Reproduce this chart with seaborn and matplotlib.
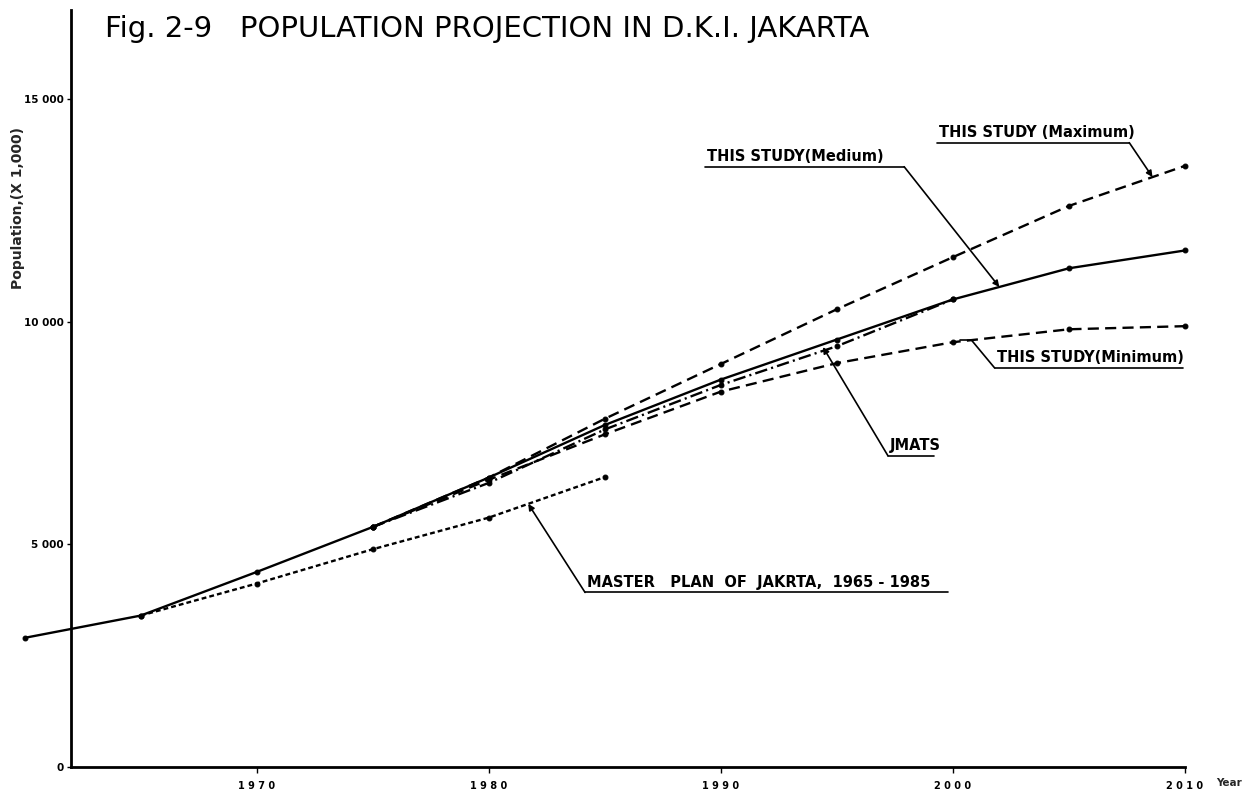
import matplotlib
matplotlib.use("Agg")
import matplotlib.pyplot as plt
import numpy as np
import pandas as pd
import seaborn as sns

# ---- data (population in thousands) ----
years_medium = [1960, 1965, 1970, 1975, 1980, 1985, 1990, 1995, 2000, 2005, 2010]
medium = [2900, 3400, 4380, 5390, 6500, 7680, 8700, 9600, 10500, 11200, 11600]

years_study = [1975, 1980, 1985, 1990, 1995, 2000, 2005, 2010]
maximum = [5390, 6500, 7820, 9050, 10280, 11450, 12600, 13500]
minimum = [5390, 6450, 7470, 8430, 9070, 9540, 9830, 9900]

years_jmats = [1975, 1980, 1985, 1990, 1995, 2000]
jmats = [5390, 6380, 7580, 8580, 9450, 10500]

years_master = [1965, 1970, 1975, 1980, 1985]
master_plan = [3400, 4120, 4890, 5600, 6510]

x_ticks = [1970, 1980, 1990, 2000, 2010]
x_tick_labels = ["1 9 7 0", "1 9 8 0", "1 9 9 0", "2 0 0 0", "2 0 1 0"]
y_ticks = [0, 5000, 10000, 15000]
y_tick_labels = ["0", "5 000", "10 000", "15 000"]

series_names = ["Medium", "Maximum", "Minimum", "JMATS", "Master plan"]

frames = [
    pd.DataFrame({"year": years_medium, "population": medium, "series": "Medium"}),
    pd.DataFrame({"year": years_study, "population": maximum, "series": "Maximum"}),
    pd.DataFrame({"year": years_study, "population": minimum, "series": "Minimum"}),
    pd.DataFrame({"year": years_jmats, "population": jmats, "series": "JMATS"}),
    pd.DataFrame({"year": years_master, "population": master_plan, "series": "Master plan"}),
]
df = pd.concat(frames, ignore_index=True)

sns.set_theme(style="white")
plt.rcParams["font.family"] = ["DejaVu Sans"]
plt.rcParams["lines.scale_dashes"] = False

W, H = 1248, 798
fig = plt.figure(figsize=(W / 100, H / 100), dpi=100)
ax = fig.add_axes([71 / W, 1 - 767 / H, (1185 - 71) / W, (767 - 10) / H])

dash_styles = {
    "Medium": "",
    "Maximum": (8, 4.5),
    "Minimum": (8, 4.5),
    "JMATS": (9, 3, 1.5, 3),
    "Master plan": (3.5, 2.2),
}
sns.lineplot(
    data=df, x="year", y="population", hue="series", style="series",
    hue_order=series_names, style_order=series_names,
    palette={s: "black" for s in series_names},
    dashes=dash_styles, markers={s: "o" for s in series_names},
    markersize=3.5, markeredgecolor="black", linewidth=1.7,
    estimator=None, legend=False, ax=ax,
)
for ln in ax.lines:
    ln.set_clip_on(False)

ax.set_xlim(1962, 2010)
ax.set_ylim(0, 17000)
ax.set_xlabel("")
ax.set_ylabel("")
for side in ("top", "right"):
    ax.spines[side].set_visible(False)
for side in ("left", "bottom"):
    ax.spines[side].set_linewidth(2)
    ax.spines[side].set_color("black")

ax.set_xticks(x_ticks)
ax.set_xticklabels(x_tick_labels)
ax.set_yticks(y_ticks)
ax.set_yticklabels(y_tick_labels)
ax.tick_params(axis="x", bottom=True, direction="out", length=4, width=1,
               labelsize=7, pad=6, colors="black")
ax.tick_params(axis="y", left=True, direction="out", length=3, width=1,
               labelsize=7.5, pad=2, colors="black")
for lbl in ax.get_xticklabels() + ax.get_yticklabels():
    lbl.set_fontweight("bold")

ax.text(1.028, -0.0145, "Year", transform=ax.transAxes, ha="left", va="top",
        fontsize=7.5, fontweight="bold")

fig.text(105 / W, 1 - 29 / H, "Fig. 2-9   POPULATION PROJECTION IN D.K.I. JAKARTA",
         fontsize=21, ha="left", va="center", color="black")
fig.text(18 / W, 1 - 208 / H, "Population,(X 1,000)", rotation=90,
         fontsize=10, fontweight="bold", ha="center", va="center")

# ---- labelled leaders ----
label_kw = dict(fontsize=10.5, fontweight="bold", ha="left", va="bottom", color="black")
line_kw = dict(color="black", lw=1.2, clip_on=False)
arrow_kw = dict(arrowstyle="-|>", color="black", lw=1.2, mutation_scale=9,
                shrinkA=0, shrinkB=0)


def on_line(years, values, x):
    return float(np.interp(x, years, values))


def leader(text, x0, x1, y, start, tip, arrow=True):
    ax.text(x0 + 0.1, y + 60, text, **label_kw)
    ax.plot([x0, x1], [y, y], **line_kw)
    if arrow:
        ax.annotate("", xy=tip, xytext=start, arrowprops=arrow_kw, annotation_clip=False)
    else:
        ax.plot([start[0], tip[0]], [start[1], tip[1]], **line_kw)


tip = (2008.6, on_line(years_study, maximum, 2008.6))
leader("THIS STUDY (Maximum)", 1999.3, 2007.6, 14020, (2007.6, 14020), tip)

tip = (2002.0, on_line(years_medium, medium, 2002.0))
leader("THIS STUDY(Medium)", 1989.3, 1997.9, 13480, (1997.9, 13480), tip)

tip_x = 2000.8
tip = (tip_x, on_line(years_study, minimum, tip_x))
leader("THIS STUDY(Minimum)", 2001.8, 2009.9, 8960, (2001.8, 8960), tip, arrow=False)
ax.plot([tip_x - 0.5, tip_x], [tip[1], tip[1]], **line_kw)

tip = (1994.4, 9430)
leader("JMATS", 1997.2, 1999.2, 6990, (1997.2, 6990), tip)

tip = (1981.7, on_line(years_master, master_plan, 1981.7))
leader("MASTER   PLAN  OF  JAKRTA,  1965 - 1985", 1984.15, 1999.8, 3920, (1984.15, 3920), tip)

fig.savefig("out.png", dpi=100, facecolor="white")
